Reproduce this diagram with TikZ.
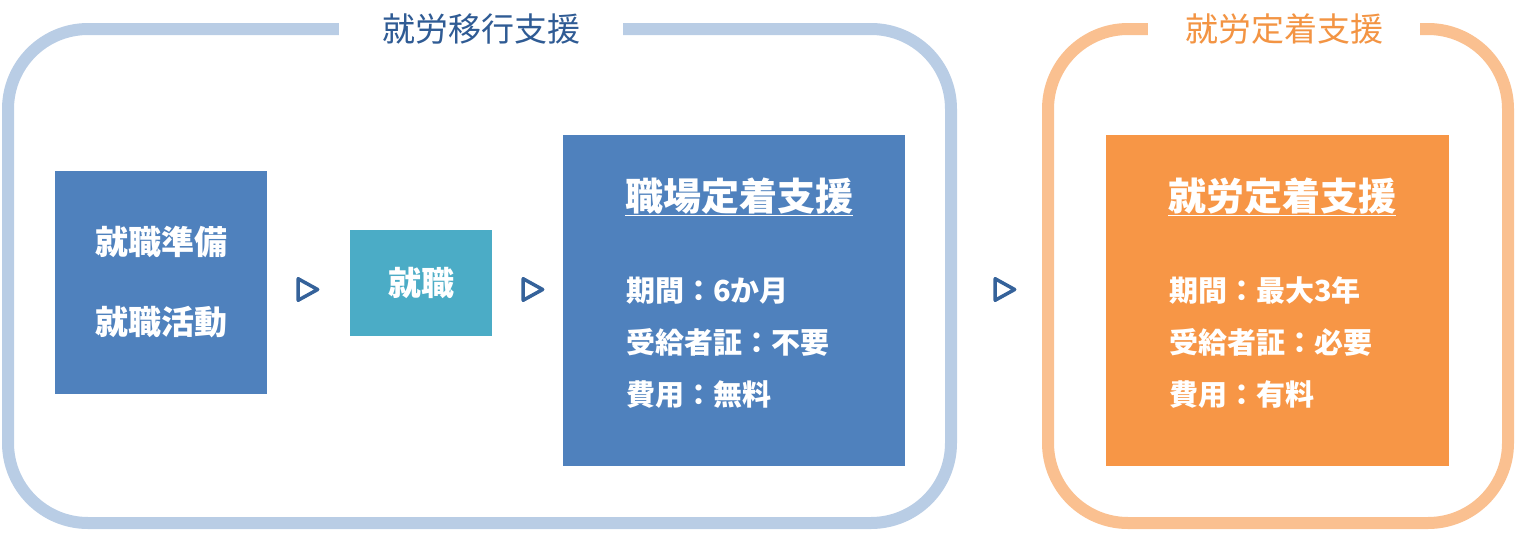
\documentclass[tikz,border=0pt]{standalone}
\usepackage{fontspec}
\setmainfont{Noto Sans CJK JP}
\usetikzlibrary{positioning,shapes.geometric}
\definecolor{frameblue}{HTML}{B9CDE5}
\definecolor{frameorange}{HTML}{FAC090}
\definecolor{boxblue}{HTML}{4F81BD}
\definecolor{boxteal}{HTML}{4BACC6}
\definecolor{boxorange}{HTML}{F79646}
\definecolor{titleblue}{HTML}{2F5B94}
\definecolor{titleorange}{HTML}{F39443}
\definecolor{markblue}{HTML}{35629A}

\begin{document}
\begin{tikzpicture}[x=1pt,y=-1pt,
  frame/.style={draw=#1,line width=12pt,rounded corners=80pt,inner sep=0pt},
  frametitle/.style={fill=white,text=#1,inner sep=0pt,minimum height=34pt,font=\fontsize{33}{38}\selectfont},
  stagebox/.style={fill=#1,inner sep=0pt,text=white,align=center,font=\bfseries\fontsize{33}{80}\selectfont},
  headtext/.style={text=white,inner sep=0pt,anchor=base west,font=\bfseries\fontsize{38}{44}\selectfont},
  infotext/.style={text=white,inner sep=0pt,anchor=base west,font=\bfseries\fontsize{29}{35}\selectfont},
  flowmark/.style={isosceles triangle,isosceles triangle stretches,draw=markblue,line width=3.5pt,
    line join=round,minimum width=21.5pt,minimum height=19.5pt,inner sep=0pt}]
\useasboundingbox (0,0) rectangle (1516,533);

% outer frames
\node[frame=frameblue,minimum width=943pt,minimum height=494pt] (transfer) at (479.5,276) {};
\node[frame=frameorange,minimum width=460pt,minimum height=494pt] (settle) at (1278,276) {};
\node[frametitle=titleblue,minimum width=284pt] (transfertitle) at (481,29) {就労移行支援};
\node[frametitle=titleorange,minimum width=272pt] (settletitle) at (1284,29) {就労定着支援};

% stages
\node[stagebox=boxblue,minimum width=212pt,minimum height=223pt] (prep) at (161,282.5) {就職準備\\就職活動};
\node[stagebox=boxteal,minimum width=142pt,minimum height=106pt] (job) at (421,283) {就職};
\node[stagebox=boxblue,minimum width=342pt,minimum height=331pt] (retain) at (734,300.5) {};
\node[stagebox=boxorange,minimum width=343pt,minimum height=331pt] (support) at (1277.5,300.5) {};

\node[flowmark] (markone) at (304.5,289.5) {};
\node[flowmark] (marktwo) at (529.5,289.5) {};
\node[flowmark] (markthree) at (1001.5,289.5) {};

% box contents
\node[headtext] (retainhead) at (625,210) {\underline{職場定着支援}};
\node[infotext] (retainterm) at (626,301) {期間：6か月};
\node[infotext] (retaincert) at (626,353) {受給者証：不要};
\node[infotext] (retaincost) at (626,405) {費用：無料};

\node[headtext] (supporthead) at (1168,210) {\underline{就労定着支援}};
\node[infotext] (supportterm) at (1169,301) {期間：最大3年};
\node[infotext] (supportcert) at (1169,353) {受給者証：必要};
\node[infotext] (supportcost) at (1169,405) {費用：有料};
\end{tikzpicture}
\end{document}
